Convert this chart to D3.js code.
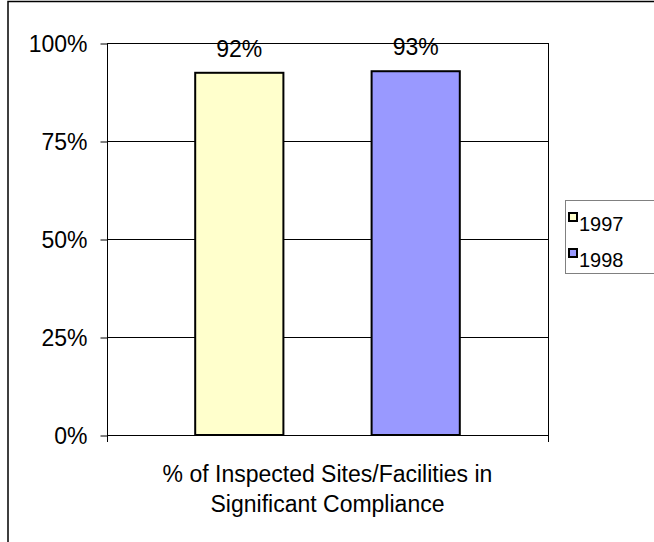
<!DOCTYPE html>
<html>
<head>
<meta charset="utf-8">
<script src="https://cdn.jsdelivr.net/npm/d3@7"></script>
<style>
  html, body { margin: 0; padding: 0; background: #fff; }
  svg { display: block; }
  text { font-family: "Liberation Sans", Arial, sans-serif; fill: #000; }
</style>
</head>
<body>
<div id="chart"></div>
<script>
const categories = ["% of Inspected Sites/Facilities in Significant Compliance"];
const categoryLines = ["% of Inspected Sites/Facilities in", "Significant Compliance"];
const seriesNames = ["1997", "1998"];
const seriesValues = [0.924, 0.928];
const valueLabels = ["92%", "93%"];
const seriesColors = ["#FFFFCC", "#9999FF"];
const yTicks = [0, 0.25, 0.5, 0.75, 1];
const yTickLabels = ["0%", "25%", "50%", "75%", "100%"];

const W = 654, H = 542;
const plot = { left: 107, right: 548, top: 43, bottom: 435 };

const svg = d3.select("#chart").append("svg")
  .attr("width", W).attr("height", H);

// outer chart frame (extends beyond right/bottom edges)
svg.append("rect")
  .attr("x", 8).attr("y", 1.5)
  .attr("width", 700).attr("height", 600)
  .attr("fill", "#fff").attr("stroke", "#000").attr("stroke-width", 1.5);

const y = d3.scaleLinear().domain([0, 1]).range([plot.bottom, plot.top]);
const xCat = d3.scaleBand().domain(categories).range([plot.left, plot.right]).padding(0);
const xSer = d3.scaleBand().domain(seriesNames)
  .range([0, xCat.bandwidth()]).paddingInner(0.5).paddingOuter(0.5);

// gridlines
svg.append("g").selectAll("line").data(yTicks).join("line")
  .attr("x1", plot.left).attr("x2", plot.right)
  .attr("y1", d => Math.round(y(d)) + 0.5).attr("y2", d => Math.round(y(d)) + 0.5)
  .attr("stroke", "#000").attr("stroke-width", 1);

// right border of plot area
svg.append("line")
  .attr("x1", plot.right + 0.5).attr("x2", plot.right + 0.5)
  .attr("y1", plot.top).attr("y2", plot.bottom + 7)
  .attr("stroke", "#000").attr("stroke-width", 1);

// y axis
const yAxis = d3.axisLeft(y).tickValues(yTicks)
  .tickFormat((d, i) => yTickLabels[i]).tickSize(7).tickPadding(13);
const gy = svg.append("g").attr("transform", `translate(${plot.left + 0.5},0.5)`).call(yAxis);
gy.select(".domain").attr("d", `M0,${plot.top}V${plot.bottom + 6}`).attr("stroke", "#000");
gy.selectAll(".tick line").attr("stroke", "#000");
gy.selectAll(".tick text")
  .style("font-family", "'Liberation Sans', Arial, sans-serif")
  .style("font-size", "23px").attr("fill", "#000").attr("dy", "0.36em");

// x axis ticks at category boundaries
svg.append("g").selectAll("line").data([plot.left, plot.right]).join("line")
  .attr("x1", d => d + 0.5).attr("x2", d => d + 0.5)
  .attr("y1", plot.bottom).attr("y2", plot.bottom + 7)
  .attr("stroke", "#000");

// bars
const g = svg.append("g").attr("transform", `translate(${xCat(categories[0])},0)`);
g.selectAll("rect").data(seriesNames).join("rect")
  .attr("x", d => xSer(d))
  .attr("width", xSer.bandwidth())
  .attr("y", (d, i) => y(seriesValues[i]))
  .attr("height", (d, i) => y(0) - y(seriesValues[i]))
  .attr("fill", (d, i) => seriesColors[i])
  .attr("stroke", "#000").attr("stroke-width", 2);

// value labels
g.selectAll("text.val").data(seriesNames).join("text").attr("class", "val")
  .attr("x", d => xSer(d) + xSer.bandwidth() / 2)
  .attr("y", (d, i) => y(seriesValues[i]) - 16)
  .attr("text-anchor", "middle")
  .style("font-size", "23px")
  .text((d, i) => valueLabels[i]);

// category label (two lines)
svg.append("g").selectAll("text").data(categoryLines).join("text")
  .attr("x", xCat(categories[0]) + xCat.bandwidth() / 2)
  .attr("y", (d, i) => 482 + i * 30)
  .attr("text-anchor", "middle")
  .style("font-size", "23px")
  .text(d => d);

// legend
const lg = svg.append("g");
lg.append("rect").attr("x", 565.5).attr("y", 200.5).attr("width", 100).attr("height", 73)
  .attr("fill", "#fff").attr("stroke", "#808080").attr("stroke-width", 1);
const items = lg.selectAll("g").data(seriesNames).join("g")
  .attr("transform", (d, i) => `translate(0,${i * 36})`);
items.append("rect").attr("x", 569).attr("y", 213).attr("width", 8).attr("height", 8)
  .attr("fill", (d, i) => seriesColors[i]).attr("stroke", "#000").attr("stroke-width", 2);
items.append("text").attr("x", 579).attr("y", 231)
  .style("font-size", "20px").text(d => d);
</script>
</body>
</html>
